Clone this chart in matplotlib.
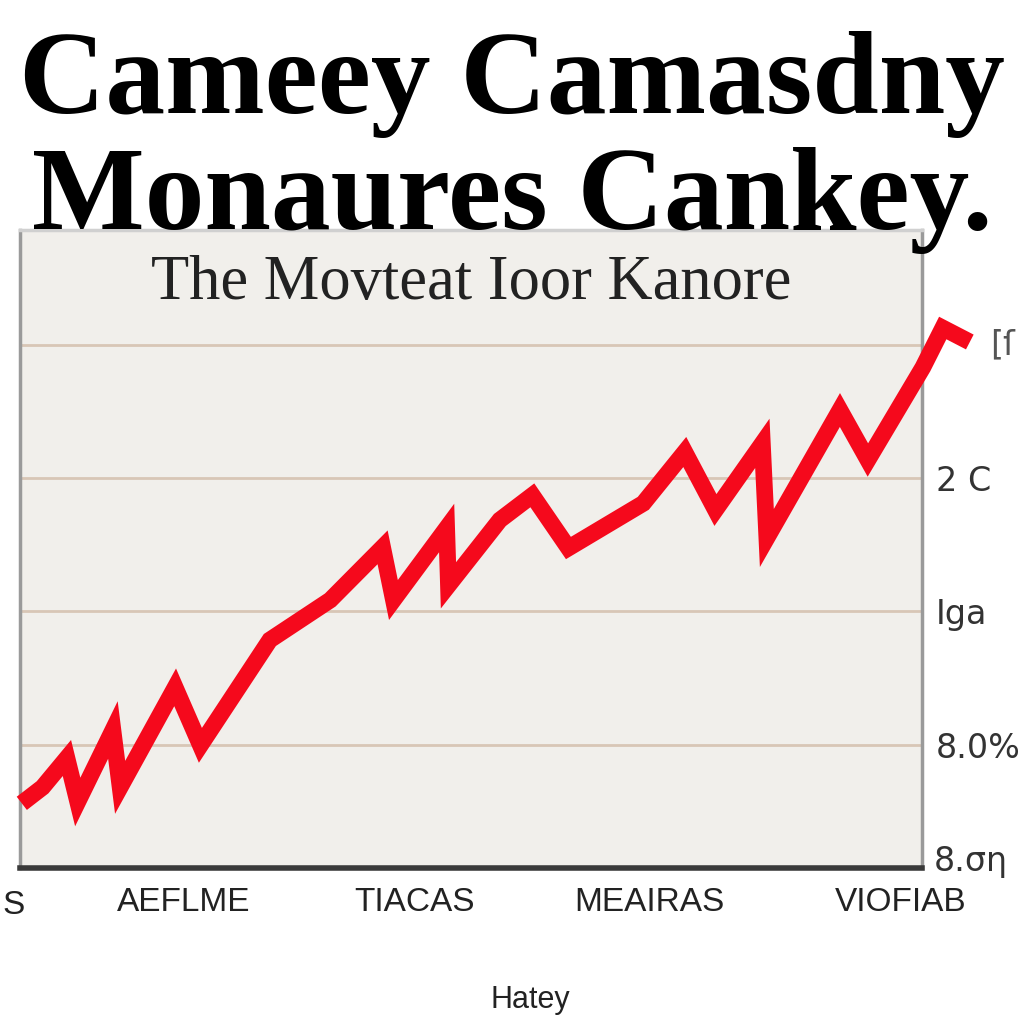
import matplotlib.pyplot as plt

# ---- data ----
xs = [0.2, 2.5, 5.2, 6.4, 10.3, 11.1, 17.2, 20.0, 27.7, 34.4, 40.2, 41.4, 47.3, 47.5,
      53.2, 56.8, 60.8, 69.1, 73.7, 77.1, 82.3, 82.8, 90.9, 94.0, 100.1, 102.3, 105.3]
ys = [11.2, 13.6, 18.0, 11.4, 22.2, 13.6, 28.6, 19.9, 35.7, 41.7, 49.6, 41.7, 52.5, 43.9,
      53.7, 57.4, 49.5, 56.2, 63.9, 55.2, 65.2, 51.0, 70.2, 62.7, 76.6, 82.5, 80.4]

xtick_pos = [18.1, 43.7, 69.8, 97.6]
xtick_labels = ["AEFLME", "TIACAS", "MEAIRAS", "VIOFIAB"]
ytick_pos = [20, 40, 60, 80]
ytick_labels = ["8.0%", "Iga", "2 C", ""]
top_right_label = "[ſ"
bottom_right_label = "8.ση"

title1 = "Cameey Camasdny"
title2 = "Monaures Cankey."
subtitle = "The Movteat Ioor Kanore"
xlabel = "Hatey"

# ---- figure ----
fig = plt.figure(figsize=(10.24, 10.24), dpi=100)
fig.patch.set_facecolor("white")
ax = fig.add_axes([20/1024, 156/1024, 902/1024, 638/1024])
ax.set_facecolor("#F1EFEB")
ax.set_xlim(0, 100)
ax.set_ylim(1.5, 97.2)

for v in ytick_pos:
    ax.axhline(v, color="#D8C6B6", lw=2, zorder=1)

ax.plot(xs, ys, color="#F5091C", lw=12, solid_joinstyle="miter", solid_capstyle="butt",
        clip_on=False, zorder=5)

for side in ["left", "right", "top"]:
    ax.spines[side].set_color("#9A9A9A")
    ax.spines[side].set_linewidth(2.5)
ax.spines["top"].set_color("#D0D0D0")
ax.spines["bottom"].set_color("#3A3A3A")
ax.spines["bottom"].set_linewidth(4)

ax.set_xticks(xtick_pos)
ax.set_xticklabels(xtick_labels, family="Liberation Sans", fontsize=24, color="#222222")
ax.yaxis.tick_right()
ax.set_yticks(ytick_pos)
ax.set_yticklabels(ytick_labels, family="DejaVu Sans", fontsize=24, color="#333333")
ax.tick_params(axis="both", length=0)
ax.tick_params(axis="x", pad=14)
ax.tick_params(axis="y", pad=10)
ax.text(1.013, 2.5, bottom_right_label, transform=ax.get_yaxis_transform(), fontsize=24,
        color="#333333", va="center", ha="left", clip_on=False)
ax.text(1.075, 80, top_right_label, transform=ax.get_yaxis_transform(), fontsize=24,
        color="#555555", va="center", ha="left", clip_on=False)

ax.text(0.5, 0.915, subtitle, transform=ax.transAxes, ha="center", va="center",
        family="Liberation Serif", fontsize=45, color="#222222")

fig.text(2/1024, 1 - 905/1024, "S", ha="left", va="center", family="Liberation Sans",
         fontsize=24, color="#222222")
fig.text(0.5, 1 - 85/1024, title1, ha="center", va="center", family="Liberation Serif",
         fontweight="bold", fontsize=86, color="black")
fig.text(0.5, 1 - 200/1024, title2, ha="center", va="center", family="Liberation Serif",
         fontweight="bold", fontsize=86, color="black")
fig.text(530/1024, 1 - 1000/1024, xlabel, ha="center", va="center", family="Liberation Sans",
         fontsize=22, color="#222222")

fig.savefig("out.png", dpi=100)
